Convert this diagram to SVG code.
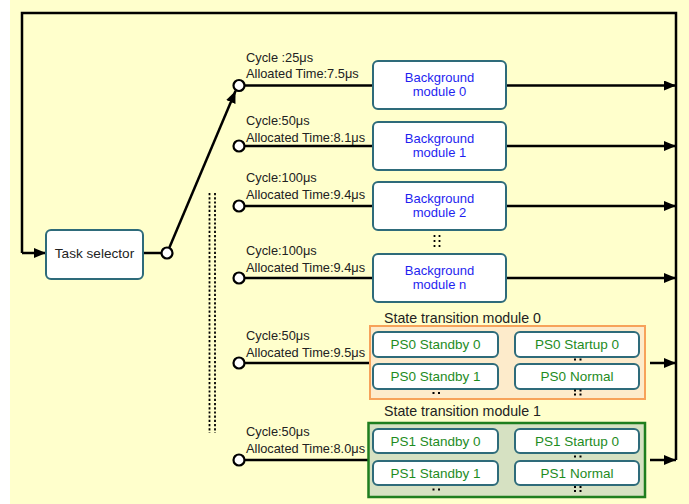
<svg xmlns="http://www.w3.org/2000/svg" width="689" height="504" viewBox="0 0 689 504">
<style>
.lbl{font-family:"Liberation Sans",Arial,sans-serif;font-size:12.8px;fill:#222}
.box{fill:#fff;stroke:#2E6B7A;stroke-width:2}
.bt{font-family:"Liberation Sans",Arial,sans-serif;font-size:13px;fill:#1F1FF0;text-anchor:middle}
.pt{font-family:"Liberation Sans",Arial,sans-serif;font-size:13.5px;fill:#1E8C1E;text-anchor:middle}
.ttl{font-family:"Liberation Sans",Arial,sans-serif;font-size:14.2px;fill:#222}
.ln{fill:none;stroke:#000;stroke-width:2.5}
.arr{fill:none;stroke:#000;stroke-width:2.5;marker-end:url(#ah)}
.cir{fill:#fff;stroke:#000;stroke-width:2.2}
.dot{fill:#000}
.vd{stroke:#000;stroke-width:1.8;stroke-dasharray:2.2 2}
</style>
<defs>
<marker id="ah" viewBox="0 0 12 10" refX="12" refY="5" markerWidth="12" markerHeight="10" markerUnits="userSpaceOnUse" orient="auto">
<path d="M0,0 L12,5 L0,10 Z" fill="#000"/>
</marker>
</defs>
<rect x="10" y="0" width="679" height="504" fill="#FFFFCC"/>

<g id="connectors">
<polyline class="ln" points="676,460 676,13 22,13 22,253"/>
<line class="arr" x1="22" y1="253" x2="46" y2="253"/>
<line class="ln" x1="143" y1="253" x2="161.5" y2="253"/>
<line class="arr" x1="169.3" y1="247.8" x2="235.5" y2="91"/>
<line class="ln" x1="244.5" y1="85.5" x2="373" y2="85.5"/>
<line class="ln" x1="244.5" y1="146" x2="373" y2="146"/>
<line class="ln" x1="244.5" y1="206" x2="373" y2="206"/>
<line class="ln" x1="244.5" y1="278" x2="373" y2="278"/>
<line class="ln" x1="244.5" y1="363" x2="370" y2="363"/>
<line class="ln" x1="244.5" y1="460" x2="368" y2="460"/>
<line class="arr" x1="506" y1="85.5" x2="676" y2="85.5"/>
<line class="arr" x1="506" y1="146" x2="676" y2="146"/>
<line class="arr" x1="506" y1="206" x2="676" y2="206"/>
<line class="arr" x1="506" y1="278" x2="676" y2="278"/>
<line class="arr" x1="650" y1="363" x2="676" y2="363"/>
<line class="arr" x1="650" y1="460" x2="676" y2="460"/>
<line class="vd" x1="209.5" y1="193" x2="209.5" y2="433"/>
<line class="vd" x1="215" y1="193" x2="215" y2="433"/>
<circle class="cir" cx="167" cy="253" r="5.5"/>
<circle class="cir" cx="239" cy="85.5" r="5.5"/>
<circle class="cir" cx="239" cy="146" r="5.5"/>
<circle class="cir" cx="239" cy="206" r="5.5"/>
<circle class="cir" cx="239" cy="278" r="5.5"/>
<circle class="cir" cx="239" cy="363" r="5.5"/>
<circle class="cir" cx="239" cy="460" r="5.5"/>
</g>

<g id="labels">
<text class="lbl" x="246" y="61.5">Cycle :25μs</text>
<text class="lbl" x="246" y="78">Alloated Time:7.5μs</text>
<text class="lbl" x="246" y="125">Cycle:50μs</text>
<text class="lbl" x="246" y="142">Allocated Time:8.1μs</text>
<text class="lbl" x="246" y="182">Cycle:100μs</text>
<text class="lbl" x="246" y="199">Allocated Time:9.4μs</text>
<text class="lbl" x="246" y="255">Cycle:100μs</text>
<text class="lbl" x="246" y="272">Allocated Time:9.4μs</text>
<text class="lbl" x="246" y="340">Cycle:50μs</text>
<text class="lbl" x="246" y="356.5">Allocated Time:9.5μs</text>
<text class="lbl" x="246" y="436">Cycle:50μs</text>
<text class="lbl" x="246" y="453">Allocated Time:8.0μs</text>
</g>

<g id="task-selector">
<rect class="box" x="46" y="230" width="97" height="49" rx="5"/>
<text class="lbl" x="94.5" y="258" text-anchor="middle" style="font-size:13.6px">Task selector</text>
</g>

<g id="bg0">
<rect class="box" x="373" y="61" width="133" height="48" rx="5"/>
<text class="bt" x="439.5" y="82">Background</text>
<text class="bt" x="439.5" y="95.5">module 0</text>
</g>
<g id="bg1">
<rect class="box" x="373" y="122" width="133" height="48" rx="5"/>
<text class="bt" x="439.5" y="143">Background</text>
<text class="bt" x="439.5" y="156.5">module 1</text>
</g>
<g id="bg2">
<rect class="box" x="373" y="182" width="133" height="48" rx="5"/>
<text class="bt" x="439.5" y="203">Background</text>
<text class="bt" x="439.5" y="216.5">module 2</text>
</g>
<g id="bg-dots">
<line class="vd" x1="434.5" y1="235" x2="434.5" y2="249" style="stroke-dasharray:2 3"/>
<line class="vd" x1="439.5" y1="235" x2="439.5" y2="249" style="stroke-dasharray:2 3"/>
</g>
<g id="bgn">
<rect class="box" x="373" y="254" width="133" height="48" rx="5"/>
<text class="bt" x="439.5" y="275">Background</text>
<text class="bt" x="439.5" y="288.5">module n</text>
</g>

<g id="stm0">
<text class="ttl" x="384" y="323">State transition module 0</text>
<rect x="370" y="326" width="275" height="73" fill="#FDEBCB" stroke="#F7A25A" stroke-width="2"/>
<g id="ps0-standby0"><rect class="box" x="373" y="332" width="125" height="25" rx="5"/><text class="pt" x="435.5" y="348.5">PS0 Standby 0</text></g>
<g id="ps0-startup0"><rect class="box" x="515" y="332" width="124" height="25" rx="5"/><text class="pt" x="577" y="348.5">PS0 Startup 0</text></g>
<g id="ps0-standby1"><rect class="box" x="373" y="364" width="125" height="25" rx="5"/><text class="pt" x="435.5" y="380.5">PS0 Standby 1</text></g>
<g id="ps0-normal"><rect class="box" x="515" y="364" width="124" height="25" rx="5"/><text class="pt" x="577" y="380.5">PS0 Normal</text></g>
<rect class="dot" x="574" y="358.5" width="2" height="2"/><rect class="dot" x="579.5" y="358.5" width="2" height="2"/>
<rect class="dot" x="432.5" y="392" width="2" height="2"/><rect class="dot" x="438" y="392" width="2" height="2"/>
<rect class="dot" x="574" y="389.5" width="2" height="2"/><rect class="dot" x="579.5" y="389.5" width="2" height="2"/>
<rect class="dot" x="574" y="393.5" width="2" height="2"/><rect class="dot" x="579.5" y="393.5" width="2" height="2"/>
</g>

<g id="stm1">
<text class="ttl" x="384" y="415.5">State transition module 1</text>
<rect x="368.5" y="423" width="276.5" height="74" fill="#D6E1C2" stroke="#1E7E1E" stroke-width="2.5"/>
<g id="ps1-standby0"><rect class="box" x="373" y="429" width="125" height="24" rx="5"/><text class="pt" x="435.5" y="445.5">PS1 Standby 0</text></g>
<g id="ps1-startup0"><rect class="box" x="515" y="429" width="124" height="24" rx="5"/><text class="pt" x="577" y="445.5">PS1 Startup 0</text></g>
<g id="ps1-standby1"><rect class="box" x="373" y="461" width="125" height="24" rx="5"/><text class="pt" x="435.5" y="477.5">PS1 Standby 1</text></g>
<g id="ps1-normal"><rect class="box" x="515" y="461" width="124" height="24" rx="5"/><text class="pt" x="577" y="477.5">PS1 Normal</text></g>
<rect class="dot" x="574" y="455.5" width="2" height="2"/><rect class="dot" x="579.5" y="455.5" width="2" height="2"/>
<rect class="dot" x="432.5" y="488.5" width="2" height="2"/><rect class="dot" x="438" y="488.5" width="2" height="2"/>
<rect class="dot" x="574" y="486" width="2" height="2"/><rect class="dot" x="579.5" y="486" width="2" height="2"/>
<rect class="dot" x="574" y="490" width="2" height="2"/><rect class="dot" x="579.5" y="490" width="2" height="2"/>
</g>
</svg>
